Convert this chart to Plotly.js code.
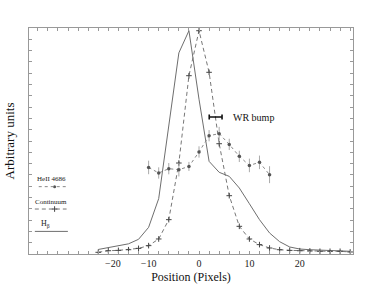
<!DOCTYPE html>
<html>
<head>
<meta charset="utf-8">
<script src="https://cdn.plot.ly/plotly-3.0.1.min.js"></script>
<style>html,body{margin:0;padding:0;background:#fff}#chart{width:382px;height:284px}</style>
</head>
<body>
<div id="chart"></div>
<script>
// Position (pixels) along the slit
const positions = [-20,-18,-16,-14,-12,-10,-8,-6,-4,-2,0,2,4,6,8,10,12,14,16,18,20,22,24,26,28,30];
// H-beta profile (arbitrary units)
const hbetaValues = [0.40,0.55,0.70,0.90,1.30,2.36,4.90,11.6,17.8,19.76,13.7,8.2,7.23,6.87,5.84,4.45,3.04,1.86,1.09,0.62,0.44,0.38,0.35,0.32,0.29,0.24];
// Continuum profile (arbitrary units)
const continuumValues = [0.15,0.29,0.32,0.38,0.50,0.74,1.33,3.04,8.05,15.78,19.76,16.08,9.76,5.16,2.45,1.33,0.83,0.53,0.38,0.32,0.29,0.27,0.24,0.24,0.24,0.18];
// HeII 4686 profile with errors
const heiiPositions = [-10,-8,-6,-4,-2,0,2,4,6,8,10,12,14];
const heiiValues = [7.66,7.17,7.55,7.46,7.75,9.03,10.47,10.65,9.70,8.64,7.84,8.11,7.02];
const heiiErrors = [0.6,0.5,0.5,0.6,0.4,0.5,0.5,0.6,0.5,0.5,0.6,0.6,0.75];
// WR bump extent
const wrCenter = [3.3];
const wrLevel = [12.12];
const wrHalfWidth = [1.27];
// Tick labels
const xTickVals = [-17.1,-10,0,10,20];
const xTickText = ['\u221220','\u221210','0','10','20'];
// Legend labels
const legendLabels = ['HeII 4686','Continuum','H<sub>\u03b2</sub>'];

const serif = "Times New Roman, Liberation Serif, Times, serif";

// legend sample geometry (in plot-fraction units on an overlay axis pair)
const legY = [0.333, 0.231, 0.134];
const lineY = [0.298, 0.199, 0.10];

const traces = [
  {x: positions, y: hbetaValues, type:'scatter', mode:'lines',
   line:{color:'#6e6e6e', width:1}, hoverinfo:'skip'},
  {x: positions, y: continuumValues, type:'scatter', mode:'lines+markers',
   line:{color:'#777', width:1, dash:'4px,3px'},
   marker:{symbol:'cross-thin', size:4, line:{width:1, color:'#444'}, color:'#444'}, hoverinfo:'skip'},
  {x: heiiPositions, y: heiiValues, type:'scatter', mode:'lines+markers',
   line:{color:'#888', width:1, dash:'dot'},
   marker:{symbol:'circle', size:3.5, color:'#555'},
   error_y:{type:'data', array: heiiErrors, visible:true, color:'#aaa', thickness:1, width:0}, hoverinfo:'skip'},
  {x: wrCenter, y: wrLevel, type:'scatter', mode:'markers',
   marker:{size:1, color:'#111'},
   error_x:{type:'data', array: wrHalfWidth, visible:true, color:'#111', thickness:1.6, width:2.5}, hoverinfo:'skip'},
  // legend sample markers
  {x:[0.079], y:[lineY[0]], xaxis:'x2', yaxis:'y2', type:'scatter', mode:'markers',
   marker:{symbol:'circle', size:3, color:'#555'}, hoverinfo:'skip'},
  {x:[0.079], y:[lineY[1]], xaxis:'x2', yaxis:'y2', type:'scatter', mode:'markers',
   marker:{symbol:'cross-thin', size:4, line:{width:1, color:'#444'}}, hoverinfo:'skip'}
];

const annotations = [
  {x: 6.36, y: 12.12, xref:'x', yref:'y', text:'WR bump', showarrow:false, xanchor:'left', yanchor:'middle',
   font:{family:serif, size:10, color:'#111'}},
  {xref:'paper', yref:'paper', x:0.068, y:legY[0], text:legendLabels[0], showarrow:false, xanchor:'center', yanchor:'middle', font:{family:serif, size:7, color:'#222'}},
  {xref:'paper', yref:'paper', x:0.069, y:legY[1], text:legendLabels[1], showarrow:false, xanchor:'center', yanchor:'middle', font:{family:serif, size:7, color:'#222'}},
  {xref:'paper', yref:'paper', x:0.05, y:legY[2], text:legendLabels[2], showarrow:false, xanchor:'center', yanchor:'middle', font:{family:serif, size:8, color:'#222'}}
];
const shapes = [
  {type:'line', xref:'paper', yref:'paper', x0:0.030, x1:0.116, y0:lineY[0], y1:lineY[0], line:{color:'#888', width:1, dash:'dot'}},
  {type:'line', xref:'paper', yref:'paper', x0:0.018, x1:0.116, y0:lineY[1], y1:lineY[1], line:{color:'#777', width:1, dash:'4px,3px'}},
  {type:'line', xref:'paper', yref:'paper', x0:0.018, x1:0.12, y0:lineY[2], y1:lineY[2], line:{color:'#6e6e6e', width:1}}
];

const layout = {
  width:382, height:284,
  margin:{l:29.3, r:29.3, t:28.3, b:29.7, pad:0},
  paper_bgcolor:'#fff', plot_bgcolor:'#fff',
  showlegend:false,
  font:{family:serif, color:'#222'},
  xaxis:{
    range:[-33.74, 30.56], autorange:false,
    tickmode:'array', tickvals:xTickVals, ticktext:xTickText, ticks:'',
    tickfont:{family:serif, size:10, color:'#222'},
    showline:true, linecolor:'#999', linewidth:1, mirror:'ticks',
    showgrid:false, zeroline:false,
    minor:{tickmode:'linear', tick0:0, dtick:2, ticks:'inside', ticklen:3, tickcolor:'#999', tickwidth:1, showgrid:false},
    title:{text:'Position (Pixels)', font:{family:serif, size:12, color:'#111'}, standoff:13},
    automargin:false
  },
  yaxis:{
    range:[0,20], autorange:false,
    tickmode:'linear', tick0:0, dtick:1, ticks:'inside', ticklen:3, tickcolor:'#999',
    showticklabels:false,
    showline:true, linecolor:'#999', linewidth:1, mirror:'ticks',
    showgrid:false, zeroline:false,
    title:{text:'Arbitrary units', font:{family:serif, size:13, color:'#111'}, standoff:10},
    automargin:false
  },
  xaxis2:{overlaying:'x', range:[0,1], visible:false, fixedrange:true},
  yaxis2:{overlaying:'y', range:[0,1], visible:false, fixedrange:true},
  annotations: annotations,
  shapes: shapes
};

Plotly.newPlot('chart', traces, layout, {staticPlot:true, displayModeBar:false});
</script>
</body>
</html>
